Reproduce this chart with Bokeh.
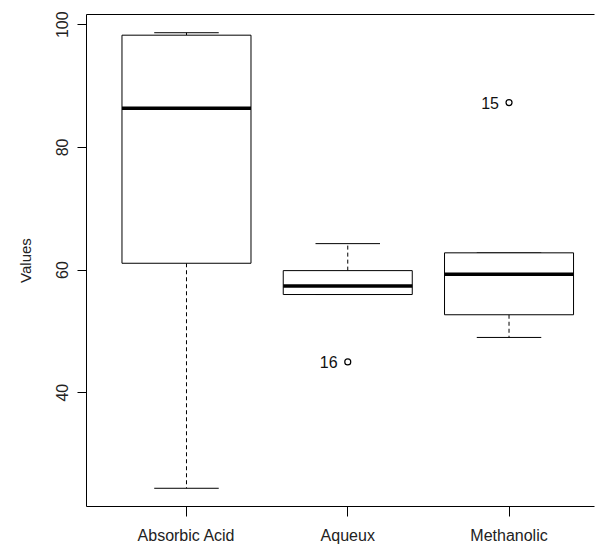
from bokeh.plotting import figure
from bokeh.models import LinearAxis, FixedTicker, ColumnDataSource, Range1d
from bokeh.core.properties import value
from bokeh.embed import file_html
from bokeh.resources import INLINE

# ---- data ----
groups = ["Absorbic Acid", "Aqueux", "Methanolic"]
positions = [1, 2, 3]
q1 = [61.1, 56.0, 52.7]
medians = [86.4, 57.4, 59.3]
q3 = [98.3, 59.9, 62.8]
lower_whisker = [24.4, 56.0, 49.0]
upper_whisker = [98.7, 64.3, 62.8]
outlier_pos = [2, 3]
outlier_vals = [45.0, 87.3]
outlier_labels = ["16", "15"]
y_ticks = [40, 60, 80, 100]

FONT = "Liberation Sans"
box_w = 0.8
cap_w = 0.4

ymin = min(lower_whisker + outlier_vals)
ymax = max(upper_whisker + outlier_vals)
pad = (ymax - ymin) * 0.04

p = figure(width=606, height=546, output_backend="svg", toolbar_location=None,
           x_range=Range1d(0.38, 3.53), y_range=Range1d(ymin - pad, ymax + pad),
           min_border_left=86, min_border_right=12, min_border_top=14, min_border_bottom=39)
p.outline_line_color = None
p.xgrid.visible = False
p.ygrid.visible = False
p.background_fill_color = "white"
p.border_fill_color = "white"

src = ColumnDataSource(dict(x=positions, q1=q1, q3=q3, med=medians,
                            lo=lower_whisker, hi=upper_whisker,
                            l=[x - box_w / 2 for x in positions],
                            r=[x + box_w / 2 for x in positions],
                            cl=[x - cap_w / 2 for x in positions],
                            cr=[x + cap_w / 2 for x in positions]))

# whiskers
p.segment(x0="x", y0="q3", x1="x", y1="hi", source=src, line_color="black",
          line_width=1, line_dash="4 3")
p.segment(x0="x", y0="q1", x1="x", y1="lo", source=src, line_color="black",
          line_width=1, line_dash="4 3")
# caps
p.segment(x0="cl", y0="hi", x1="cr", y1="hi", source=src, line_color="black", line_width=1)
p.segment(x0="cl", y0="lo", x1="cr", y1="lo", source=src, line_color="black", line_width=1)
# boxes
p.quad(left="l", right="r", bottom="q1", top="q3", source=src, fill_color="white",
       line_color="black", line_width=1)
# medians
p.segment(x0="l", y0="med", x1="r", y1="med", source=src, line_color="black", line_width=3.5)

# outliers
osrc = ColumnDataSource(dict(x=outlier_pos, y=outlier_vals, lab=outlier_labels))
p.scatter(x="x", y="y", source=osrc, marker="circle", size=6, fill_color="white",
          line_color="black", line_width=1.2)
p.text(x="x", y="y", text="lab", source=osrc, x_offset=-19, text_align="center",
       text_baseline="middle", text_font=value(FONT), text_font_size="16px",
       text_color="#111111")

# axes
xa = p.xaxis[0]
xa.ticker = FixedTicker(ticks=positions)
xa.major_label_overrides = {pos: g for pos, g in zip(positions, groups)}
xa.axis_line_color = "black"
xa.major_tick_line_color = "black"
xa.major_tick_out = 10
xa.major_tick_in = 0
xa.minor_tick_line_color = None
xa.major_label_standoff = 10
xa.major_label_text_font = FONT
xa.major_label_text_font_size = "16px"
xa.major_label_text_color = "#222222"

ya = p.yaxis[0]
ya.ticker = FixedTicker(ticks=y_ticks)
ya.axis_line_color = "black"
ya.major_tick_line_color = "black"
ya.major_tick_out = 9
ya.major_tick_in = 0
ya.minor_tick_line_color = None
ya.major_label_orientation = "vertical"
ya.major_label_standoff = 9
ya.major_label_text_font = FONT
ya.major_label_text_font_size = "16px"
ya.major_label_text_color = "#222222"
ya.axis_label = "Values"
ya.axis_label_text_font = FONT
ya.axis_label_text_font_size = "15px"
ya.axis_label_text_font_style = "normal"
ya.axis_label_text_color = "#222222"
ya.axis_label_standoff = 20

top = LinearAxis(ticker=FixedTicker(ticks=[]), major_tick_line_color=None,
                 minor_tick_line_color=None, major_label_text_font_size="0px",
                 axis_line_color="black")
p.add_layout(top, "above")

open("out.html", "w").write(file_html(p, INLINE))
